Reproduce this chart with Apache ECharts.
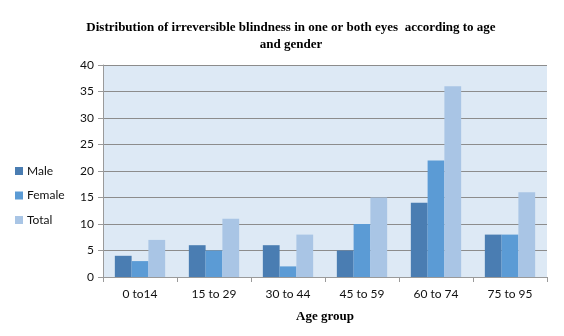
<!DOCTYPE html>
<html>
<head>
<meta charset="utf-8">
<script src="https://cdn.jsdelivr.net/npm/echarts@6/dist/echarts.min.js"></script>
<style>
html, body { margin: 0; padding: 0; background: #fff; }
#chart { width: 564px; height: 336px; }
</style>
</head>
<body>
<div id="chart"></div>
<script>
// Age groups and counts of irreversible blindness per group
const ageGroups = ['0 to14', '15 to 29', '30 to 44', '45 to 59', '60 to 74', '75 to 95'];
const male = [4, 6, 6, 5, 14, 8];
const female = [3, 5, 2, 10, 22, 8];
const total = [7, 11, 8, 15, 36, 16];
const yTicks = { min: 0, max: 40, interval: 5 };

const chart = echarts.init(document.getElementById('chart'));
const labelFont = 'Lato, "Open Sans", sans-serif';

chart.setOption({
  animation: false,
  title: {
    text: 'Distribution of irreversible blindness in one or both eyes  according to age\nand gender',
    left: 286,
    textAlign: 'center',
    top: 14,
    textStyle: {
      fontFamily: '"Liberation Serif", serif',
      fontWeight: 'bold',
      fontSize: 13,
      lineHeight: 17,
      color: '#000'
    }
  },
  legend: {
    orient: 'vertical',
    left: 10,
    top: 160,
    itemWidth: 8,
    itemHeight: 8,
    itemGap: 12.5,
    icon: 'rect',
    textStyle: { fontFamily: labelFont, fontSize: 12, color: '#111', padding: [0, 0, 0, -1] },
    data: ['Male', 'Female', 'Total']
  },
  grid: {
    left: 103, right: 17, top: 65, bottom: 59,
    show: true,
    backgroundColor: '#dde9f5',
    borderWidth: 0
  },
  xAxis: {
    type: 'category',
    data: ageGroups,
    name: 'Age group',
    nameLocation: 'middle',
    nameGap: 33,
    nameTextStyle: {
      fontFamily: '"Liberation Serif", serif',
      fontWeight: 'bold',
      fontSize: 13,
      color: '#000'
    },
    axisLine: { lineStyle: { color: '#9a9a9a' } },
    axisTick: { show: true, length: 5, lineStyle: { color: '#9a9a9a' } },
    axisLabel: { fontFamily: labelFont, fontSize: 12, color: '#111', margin: 11 }
  },
  yAxis: {
    type: 'value',
    min: yTicks.min,
    max: yTicks.max,
    interval: yTicks.interval,
    axisLine: { show: true, lineStyle: { color: '#9a9a9a' } },
    axisTick: { show: true, length: 5, lineStyle: { color: '#9a9a9a' } },
    axisLabel: { fontFamily: labelFont, fontSize: 12, color: '#111', margin: 9 },
    splitLine: { lineStyle: { color: '#8c8c8c', width: 1 } }
  },
  series: [
    { name: 'Male', type: 'bar', data: male, barGap: '0%', barCategoryGap: '32%', itemStyle: { color: '#4a7db2' } },
    { name: 'Female', type: 'bar', data: female, itemStyle: { color: '#5b9bd5' } },
    { name: 'Total', type: 'bar', data: total, itemStyle: { color: '#a9c5e5' } }
  ]
});
</script>
</body>
</html>
